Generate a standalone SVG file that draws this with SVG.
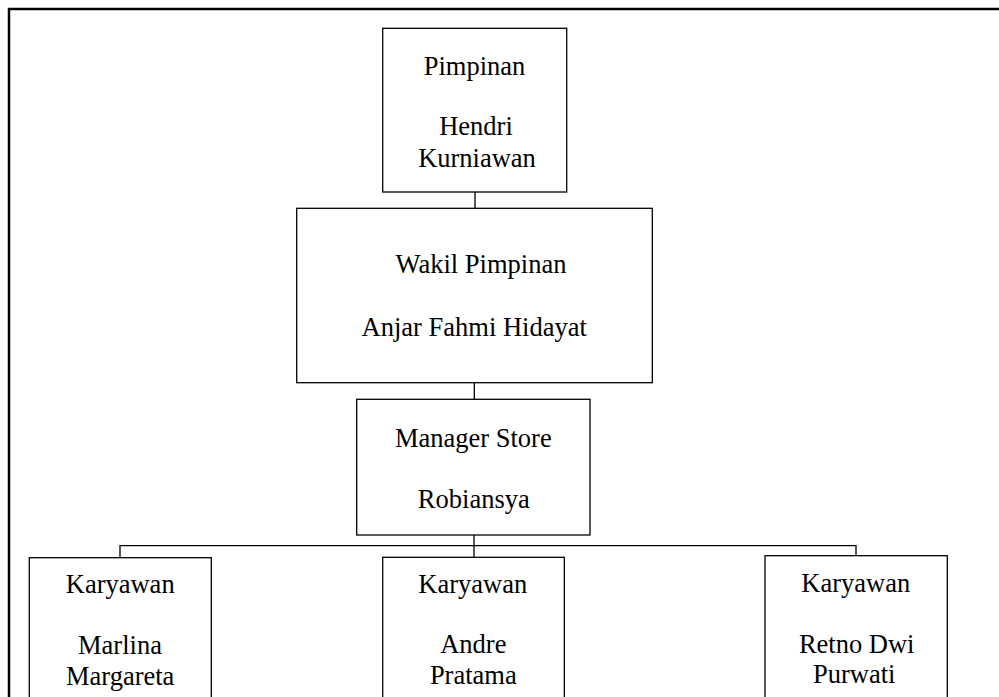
<svg xmlns="http://www.w3.org/2000/svg" width="999" height="697" viewBox="0 0 999 697">
<style>
.box{fill:#fff;stroke:#000;stroke-width:1.3}
.t{font-family:'Liberation Serif','Times New Roman',Tinos,'DejaVu Serif',serif;font-size:26.5px;fill:#000;text-anchor:middle}
.c{fill:none;stroke:#000;stroke-width:1.3}
</style>
<rect width="999" height="697" fill="#fff"/>
<path d="M9 697V9H999" fill="none" stroke="#000" stroke-width="2.5"/>
<g id="connectors">
<path class="c" d="M475 192V208.3"/>
<path class="c" d="M474.3 382.7V399.3"/>
<path class="c" d="M474 535V557.3"/>
<path class="c" d="M120 557.7V545.7H856V555.7"/>
</g>
<g id="pimpinan">
<rect class="box" x="382.7" y="28.3" width="184" height="163.7"/>
<text class="t" x="474.5" y="75">Pimpinan</text>
<text class="t" x="476" y="135">Hendri</text>
<text class="t" x="477" y="166.7">Kurniawan</text>
</g>
<g id="wakil">
<rect class="box" x="296.7" y="208.3" width="355.6" height="174.4"/>
<text class="t" x="481" y="273.3">Wakil Pimpinan</text>
<text class="t" x="474.2" y="335.7">Anjar Fahmi Hidayat</text>
</g>
<g id="manager">
<rect class="box" x="356.7" y="399.3" width="233.3" height="135.7"/>
<text class="t" x="473.3" y="446.7">Manager Store</text>
<text class="t" x="473.8" y="508.3">Robiansya</text>
</g>
<g id="karyawan1">
<rect class="box" x="29.3" y="557.7" width="182" height="160"/>
<text class="t" x="120.2" y="593.3">Karyawan</text>
<text class="t" x="120" y="654.3">Marlina</text>
<text class="t" x="120.2" y="685">Margareta</text>
</g>
<g id="karyawan2">
<rect class="box" x="382.7" y="557.3" width="181.6" height="160"/>
<text class="t" x="472.8" y="592.7">Karyawan</text>
<text class="t" x="473.3" y="653.3">Andre</text>
<text class="t" x="473.3" y="684.3">Pratama</text>
</g>
<g id="karyawan3">
<rect class="box" x="765" y="555.7" width="182.3" height="160"/>
<text class="t" x="855.8" y="591.7">Karyawan</text>
<text class="t" x="856.7" y="652.7">Retno Dwi</text>
<text class="t" x="854.2" y="683.3">Purwati</text>
</g>
</svg>
